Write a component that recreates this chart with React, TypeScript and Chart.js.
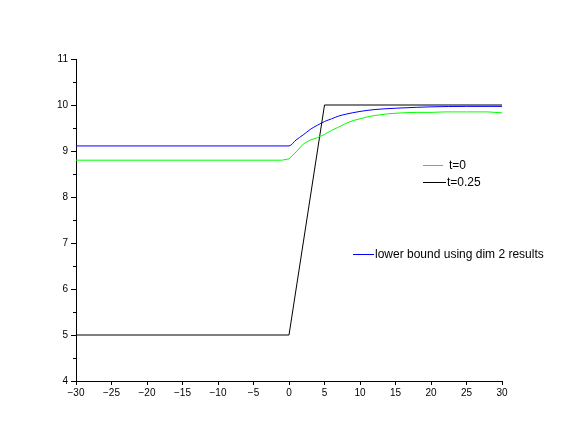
import React, { useEffect, useRef } from "react";
import { Chart, registerables } from "chart.js";

Chart.register(...registerables);

const xTicks = [-30, -25, -20, -15, -10, -5, 0, 5, 10, 15, 20, 25, 30];
const yTicks = [4, 5, 6, 7, 8, 9, 10, 11];

const blackX = [-30, 0, 5, 30];
const blackY = [5, 5, 10, 10];

const blueX = [-30, 0, 1, 2, 3, 4, 5, 6, 7, 8, 10, 12, 15, 18, 20, 25, 30];
const blueY = [9.11, 9.11, 9.24, 9.35, 9.47, 9.56, 9.64, 9.7, 9.76, 9.8, 9.86, 9.9, 9.93, 9.95, 9.96, 9.97, 9.97];

const greenX = [-30, -1, 0, 1, 2, 3, 4, 5, 6, 7, 8, 9, 10, 11, 12, 14, 16, 18, 20, 22, 25, 28, 30];
const greenY = [8.8, 8.8, 8.83, 8.98, 9.15, 9.24, 9.29, 9.36, 9.45, 9.52, 9.6, 9.66, 9.7, 9.74, 9.77, 9.81, 9.83, 9.84, 9.84, 9.85, 9.85, 9.85, 9.83];

const legendItems = [
  { label: "t=0", color: "#00ff00", x1: 423, x2: 443, y: 165, tx: 449 },
  { label: "t=0.25", color: "#000000", x1: 423, x2: 446, y: 182, tx: 447 },
  { label: "lower bound using dim 2 results", color: "#0000ff", x1: 353, x2: 374, y: 254, tx: 375 },
];

const FONT = "'Liberation Sans', Arial, sans-serif";

const pts = (xs: number[], ys: number[]) => xs.map((x, i) => ({ x, y: ys[i] }));

const fmt = (v: number) => (v < 0 ? "\u2212" + Math.abs(v) : String(v));

export default function App() {
  const ref = useRef<HTMLCanvasElement | null>(null);
  useEffect(() => {
    document.body.style.margin = "0";
    const canvas = ref.current!;
    const extras = {
      id: "extras",
      afterDraw(chart: any) {
        const ctx = chart.ctx;
        const ys = chart.scales.y;
        const left = chart.chartArea.left;
        ctx.save();
        ctx.strokeStyle = "#000";
        ctx.lineWidth = 1;
        // minor y ticks
        for (let i = 0; i < yTicks.length - 1; i++) {
          const v = (yTicks[i] + yTicks[i + 1]) / 2;
          const py = Math.round(ys.getPixelForValue(v)) + 0.5;
          ctx.beginPath();
          ctx.moveTo(left - 3, py);
          ctx.lineTo(left, py);
          ctx.stroke();
        }
        // legend
        ctx.font = "12px " + FONT;
        ctx.textBaseline = "middle";
        ctx.textAlign = "left";
        for (const it of legendItems) {
          ctx.strokeStyle = it.color;
          ctx.beginPath();
          ctx.moveTo(it.x1, it.y + 0.5);
          ctx.lineTo(it.x2, it.y + 0.5);
          ctx.stroke();
          ctx.fillStyle = "#000";
          ctx.fillText(it.label, it.tx, it.y + 1);
        }
        ctx.restore();
      },
    };
    const chart = new Chart(canvas, {
      type: "line",
      data: {
        datasets: [
          { label: "t=0", data: pts(greenX, greenY), borderColor: "#00ff00", borderWidth: 1, pointRadius: 0, tension: 0, fill: false },
          { label: "t=0.25", data: pts(blackX, blackY), borderColor: "#000000", borderWidth: 1, pointRadius: 0, tension: 0, fill: false },
          { label: "lower bound using dim 2 results", data: pts(blueX, blueY), borderColor: "#0000ff", borderWidth: 1, pointRadius: 0, tension: 0.3, cubicInterpolationMode: "monotone", fill: false },
        ],
      },
      options: {
        animation: false,
        responsive: false,
        devicePixelRatio: 1,
        layout: { padding: { left: 0, right: 69, top: 59, bottom: 0 } },
        plugins: { legend: { display: false }, tooltip: { enabled: false } },
        scales: {
          x: {
            type: "linear",
            min: -30,
            max: 30,
            afterBuildTicks: (s: any) => { s.ticks = xTicks.map((v) => ({ value: v })); },
            afterFit: (s: any) => { s.height = 51; },
            grid: { drawOnChartArea: false, drawTicks: true, tickLength: 4, color: "#000", tickColor: "#000" },
            border: { display: true, color: "#000", width: 1 },
            ticks: { color: "#000", font: { size: 10, family: FONT }, padding: 2, maxRotation: 0, autoSkip: false, callback: (v: any) => fmt(Number(v)) },
          },
          y: {
            type: "linear",
            min: 4,
            max: 11,
            afterBuildTicks: (s: any) => { s.ticks = yTicks.map((v) => ({ value: v })); },
            afterFit: (s: any) => { s.width = 76; },
            grid: { drawOnChartArea: false, drawTicks: true, tickLength: 5, color: "#000", tickColor: "#000" },
            border: { display: true, color: "#000", width: 1 },
            ticks: { color: "#000", font: { size: 10, family: FONT }, padding: 3, autoSkip: false, callback: (v: any) => fmt(Number(v)) },
          },
        },
      },
      plugins: [extras],
    } as any);
    return () => chart.destroy();
  }, []);
  return (
    <div style={{ width: 571, height: 432, background: "#fff" }}>
      <canvas ref={ref} width={571} height={432} style={{ display: "block", width: 571, height: 432 }} />
    </div>
  );
}
